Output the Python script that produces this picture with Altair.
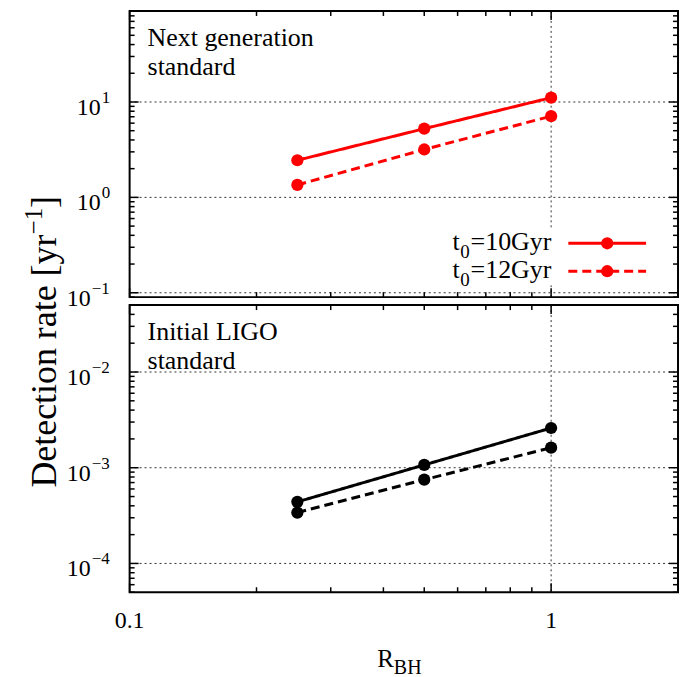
import altair as alt
import pandas as pd

FONT = "Liberation Serif"
W = 550
H_TOP = 287
H_BOT = 288

# Detection rates against R_BH for the two detector sensitivities
r_bh = [0.25, 0.5, 1.0]
next_gen_10 = [2.45, 5.25, 11.1]
next_gen_12 = [1.35, 3.18, 7.1]
ligo_10 = [4.4e-4, 1.07e-3, 2.6e-3]
ligo_12 = [3.4e-4, 7.5e-4, 1.62e-3]
ages = ["10", "12"]

# Axis ranges and ticks
x_domain = [0.1, 2.0]
top_domain = [0.09, 90.0]
bot_domain = [5e-5, 0.05]
x_major = [0.1, 1.0]
x_minor = [0.2, 0.3, 0.4, 0.5, 0.6, 0.7, 0.8, 0.9, 2.0]
x_tick_labels = ["0.1", "1"]
top_exps = [-1, 0, 1]
bot_exps = [-4, -3, -2]
top_heading = ["Next generation", "standard"]
bot_heading = ["Initial LIGO", "standard"]

MAJOR_LEN = 9
MINOR_LEN = 5
GRID_COLOR = "#333333"
ONE = alt.Data(values=[{"k": 0}])
X_SCALE = alt.Scale(type="log", domain=x_domain)


def minor_values(domain):
    lo, hi = domain
    vals = []
    for k in range(-6, 3):
        for m in range(2, 10):
            v = m * 10.0 ** k
            if lo * 0.999 <= v <= hi * 1.001:
                vals.append(v)
    return vals


def panel(rates10, rates12, ydomain, exps, heading, color, height, bottom=False, legend=False):
    ys = alt.Scale(type="log", domain=ydomain)
    layers = []

    if legend:
        # transparent frame fixing the page extent around the plot areas
        layers.append(
            alt.Chart(ONE).mark_rect(opacity=0).encode(
                x=alt.value(-129), x2=alt.value(553), y=alt.value(-9), y2=alt.value(668)
            )
        )

    # dotted grid at the major decades and at R_BH = 1
    grid = alt.Chart(pd.DataFrame({"v": [10.0 ** e for e in exps]})).mark_rule(
        color=GRID_COLOR, strokeWidth=1, strokeDash=[2, 3]
    ).encode(y=alt.Y("v:Q", scale=ys, axis=None), x=alt.value(0), x2=alt.value(W))
    vgrid = alt.Chart(pd.DataFrame({"v": [1.0]})).mark_rule(
        color=GRID_COLOR, strokeWidth=1, strokeDash=[2, 3]
    ).encode(x=alt.X("v:Q", scale=X_SCALE, axis=None), y=alt.value(0), y2=alt.value(height))
    layers += [grid, vgrid]

    if legend:
        layers.append(
            alt.Chart(ONE).mark_rect(color="white").encode(
                x=alt.value(310), x2=alt.value(549), y=alt.value(219), y2=alt.value(275)
            )
        )

    df = pd.DataFrame({
        "R": r_bh * 2,
        "rate": rates10 + rates12,
        "series": [ages[0]] * 3 + [ages[1]] * 3,
    })
    enc_x = alt.X("R:Q", scale=X_SCALE, axis=None)
    enc_y = alt.Y("rate:Q", scale=ys, axis=None)
    lines = alt.Chart(df).mark_line(color=color, strokeWidth=3).encode(
        x=enc_x, y=enc_y,
        strokeDash=alt.StrokeDash(
            "series:N", scale=alt.Scale(domain=ages, range=[[1, 0], [9, 5]]), legend=None
        ),
        detail="series:N",
    )
    points = alt.Chart(df).mark_point(
        filled=True, shape="circle", size=150, color=color, opacity=1
    ).encode(x=enc_x, y=enc_y)
    layers += [lines, points]

    # inward ticks on all four sides
    def yticks(values, length):
        d = alt.Chart(pd.DataFrame({"v": values})).mark_rule(color="black", strokeWidth=1.5)
        yy = alt.Y("v:Q", scale=ys, axis=None)
        return [
            d.encode(y=yy, x=alt.value(0), x2=alt.value(length)),
            d.encode(y=yy, x=alt.value(W - length), x2=alt.value(W)),
        ]

    def xticks(values, length):
        d = alt.Chart(pd.DataFrame({"v": values})).mark_rule(color="black", strokeWidth=1.5)
        xx = alt.X("v:Q", scale=X_SCALE, axis=None)
        return [
            d.encode(x=xx, y=alt.value(0), y2=alt.value(length)),
            d.encode(x=xx, y=alt.value(height - length), y2=alt.value(height)),
        ]

    layers += yticks([10.0 ** e for e in exps], MAJOR_LEN)
    layers += yticks(minor_values(ydomain), MINOR_LEN)
    layers += xticks(x_major, MAJOR_LEN)
    layers += xticks(x_minor, MINOR_LEN)

    # y tick labels written as 10 with a raised exponent
    lab = pd.DataFrame({"e": exps})
    for neg, x10 in ((False, -29), (True, -39)):
        part = alt.Chart(lab).transform_filter(
            "datum.e < 0" if neg else "datum.e >= 0"
        ).transform_calculate(
            v="pow(10, datum.e)",
            sup="datum.e < 0 ? '\u2212' + (-datum.e) : '' + datum.e",
        )
        yy = alt.Y("v:Q", scale=ys, axis=None)
        layers.append(
            part.mark_text(font=FONT, fontSize=24, align="right", baseline="alphabetic", dy=13)
            .encode(y=yy, x=alt.value(x10), text=alt.value("10"))
        )
        layers.append(
            part.mark_text(font=FONT, fontSize=17, align="left", baseline="alphabetic", dy=1)
            .encode(y=yy, x=alt.value(x10 + 1), text="sup:N")
        )

    # panel heading
    for line, base_y in zip(heading, (35, 64)):
        layers.append(
            alt.Chart(ONE).mark_text(
                font=FONT, fontSize=26, align="left", baseline="alphabetic", text=line
            ).encode(x=alt.value(18), y=alt.value(base_y))
        )

    if legend:
        for age, ly, dash in zip(ages, (233, 261), ([1, 0], [9, 5])):
            one = alt.Chart(ONE)
            layers.append(one.mark_text(
                font=FONT, fontSize=26, align="right", baseline="alphabetic", text="=" + age + "Gyr"
            ).encode(x=alt.value(423), y=alt.value(ly + 7)))
            layers.append(one.mark_text(
                font=FONT, fontSize=19, align="right", baseline="alphabetic", text="0"
            ).encode(x=alt.value(341), y=alt.value(ly + 15)))
            layers.append(one.mark_text(
                font=FONT, fontSize=26, align="right", baseline="alphabetic", text="t"
            ).encode(x=alt.value(331), y=alt.value(ly + 7)))
            layers.append(one.mark_rule(color=color, strokeWidth=3, strokeDash=dash).encode(
                x=alt.value(440), x2=alt.value(518), y=alt.value(ly)
            ))
            layers.append(one.mark_point(
                filled=True, shape="circle", size=150, color=color, opacity=1
            ).encode(x=alt.value(479), y=alt.value(ly)))

    if bottom:
        xl = pd.DataFrame({"v": x_major, "t": x_tick_labels})
        layers.append(
            alt.Chart(xl).mark_text(font=FONT, fontSize=24, align="center", baseline="alphabetic")
            .encode(x=alt.X("v:Q", scale=X_SCALE, axis=None), y=alt.value(height + 36), text="t:N")
        )
        one = alt.Chart(ONE)
        # x title R_BH
        layers.append(one.mark_text(
            font=FONT, fontSize=25, align="right", baseline="alphabetic", text="R"
        ).encode(x=alt.value(265), y=alt.value(height + 75)))
        layers.append(one.mark_text(
            font=FONT, fontSize=20, align="left", baseline="alphabetic", text="BH"
        ).encode(x=alt.value(265), y=alt.value(height + 82)))
        # y title, rotated, spanning both panels
        fs = 36
        fs_sup = 25
        y0 = 183
        y1 = y0 - 7.053 * fs
        y2 = y1 - 1.064 * fs_sup
        layers.append(one.mark_text(
            font=FONT, fontSize=fs, angle=270, align="left", baseline="alphabetic",
            text="Detection rate [yr"
        ).encode(x=alt.value(-74), y=alt.value(y0)))
        layers.append(one.mark_text(
            font=FONT, fontSize=fs_sup, angle=270, align="left", baseline="alphabetic", text="\u22121"
        ).encode(x=alt.value(-88), y=alt.value(y1)))
        layers.append(one.mark_text(
            font=FONT, fontSize=fs, angle=270, align="left", baseline="alphabetic", text="]"
        ).encode(x=alt.value(-74), y=alt.value(y2)))

    return alt.layer(*layers).properties(width=W, height=height)


top = panel(next_gen_10, next_gen_12, top_domain, top_exps, top_heading, "#ff0000", H_TOP, legend=True)
bot = panel(ligo_10, ligo_12, bot_domain, bot_exps, bot_heading, "#000000", H_BOT, bottom=True)

chart = alt.vconcat(top, bot, spacing=8, bounds="flush").resolve_scale(
    y="independent"
).properties(
    padding=0,
).configure_view(stroke="black", strokeWidth=2)

chart.save("out.html", embed_options={"renderer": "svg", "actions": False})
